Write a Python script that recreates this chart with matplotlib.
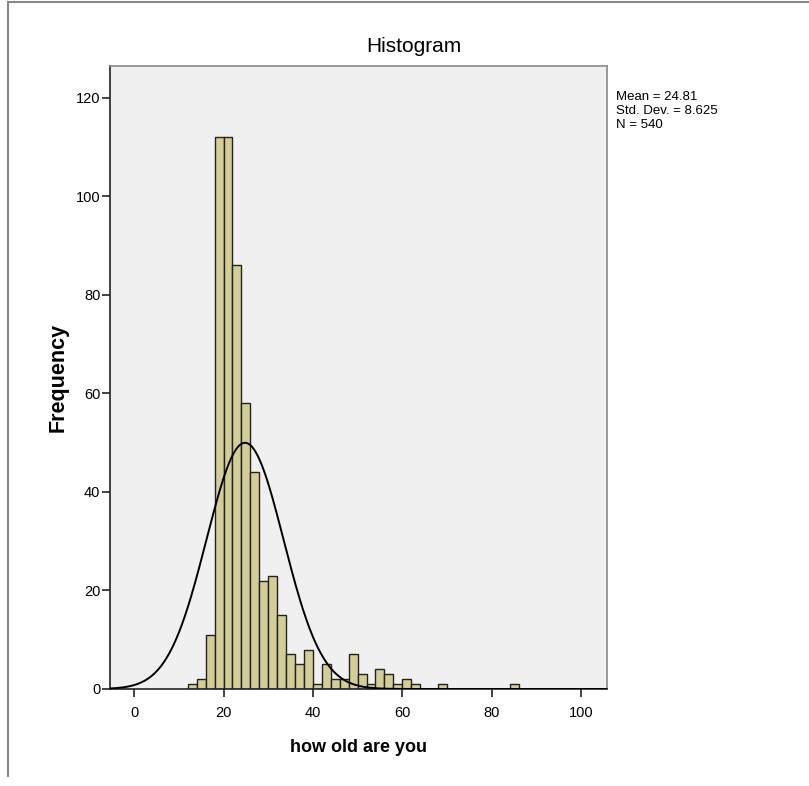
import numpy as np
import matplotlib.pyplot as plt
from matplotlib.lines import Line2D

plt.rcParams['font.family'] = ['Liberation Sans', 'DejaVu Sans']

# bin left edges (width 2) and counts
bin_left = [12, 14, 16, 18, 20, 22, 24, 26, 28, 30, 32, 34, 36, 38, 40, 42, 44, 46,
            48, 50, 52, 54, 56, 58, 60, 62, 68, 84]
counts = [1, 2, 11, 112, 112, 86, 58, 44, 22, 23, 15, 7, 5, 8, 1, 5, 2, 2,
          7, 3, 1, 4, 3, 1, 2, 1, 1, 1]
bin_width = 2
mean, sd, n = 24.81, 8.625, 540

fig = plt.figure(figsize=(8.09, 7.86), dpi=100)
ax = fig.add_axes([110/809, 1-689/786, (607-110)/809, (689-66)/786])
ax.set_facecolor('#f0f0f0')

ax.bar(bin_left, counts, width=bin_width, align='edge', color='#d3ce97',
       edgecolor='#222222', linewidth=1.0, zorder=2)

# normal curve scaled to the histogram
xs = np.linspace(-5.4, 105.8, 600)
ys = n * bin_width * np.exp(-0.5 * ((xs - mean) / sd) ** 2) / (sd * np.sqrt(2 * np.pi))
ax.plot(xs, ys, color='black', linewidth=1.4, zorder=3)

ax.set_xlim(-5.4, 105.8)
ax.set_ylim(0, 126.4)
ax.set_xticks([0, 20, 40, 60, 80, 100])
ax.set_yticks([0, 20, 40, 60, 80, 100, 120])
ax.tick_params(axis='both', direction='out', length=6, width=1.2, labelsize=10.5,
               color='#222222')
ax.tick_params(axis='x', pad=6)
ax.tick_params(axis='y', pad=1)
for s in ['left', 'bottom']:
    ax.spines[s].set_color('#222222')
    ax.spines[s].set_linewidth(1.2)
for s in ['top', 'right']:
    ax.spines[s].set_color('#888888')
    ax.spines[s].set_linewidth(1.2)

ax.set_ylabel('Frequency', fontsize=15.5, fontweight='bold', va='center')
ax.yaxis.set_label_coords((58-110)/497, 0.5)
ax.set_xlabel('how old are you', fontsize=13, fontweight='bold', labelpad=14)

fig.text(414/809, 1-46/786, 'Histogram', fontsize=15, ha='center', va='center')
fig.text(616/809, 1-91/786, 'Mean = 24.81\nStd. Dev. = 8.625\nN = 540',
         fontsize=9.5, ha='left', va='top', linespacing=1.2)

# outer frame (top and left)
fig.add_artist(Line2D([8/809, 1], [1-2/786, 1-2/786], color='#888888', linewidth=1.5))
fig.add_artist(Line2D([8/809, 8/809], [1-2/786, 1-776/786], color='#888888', linewidth=1.5))

fig.savefig('out.png', dpi=100)
